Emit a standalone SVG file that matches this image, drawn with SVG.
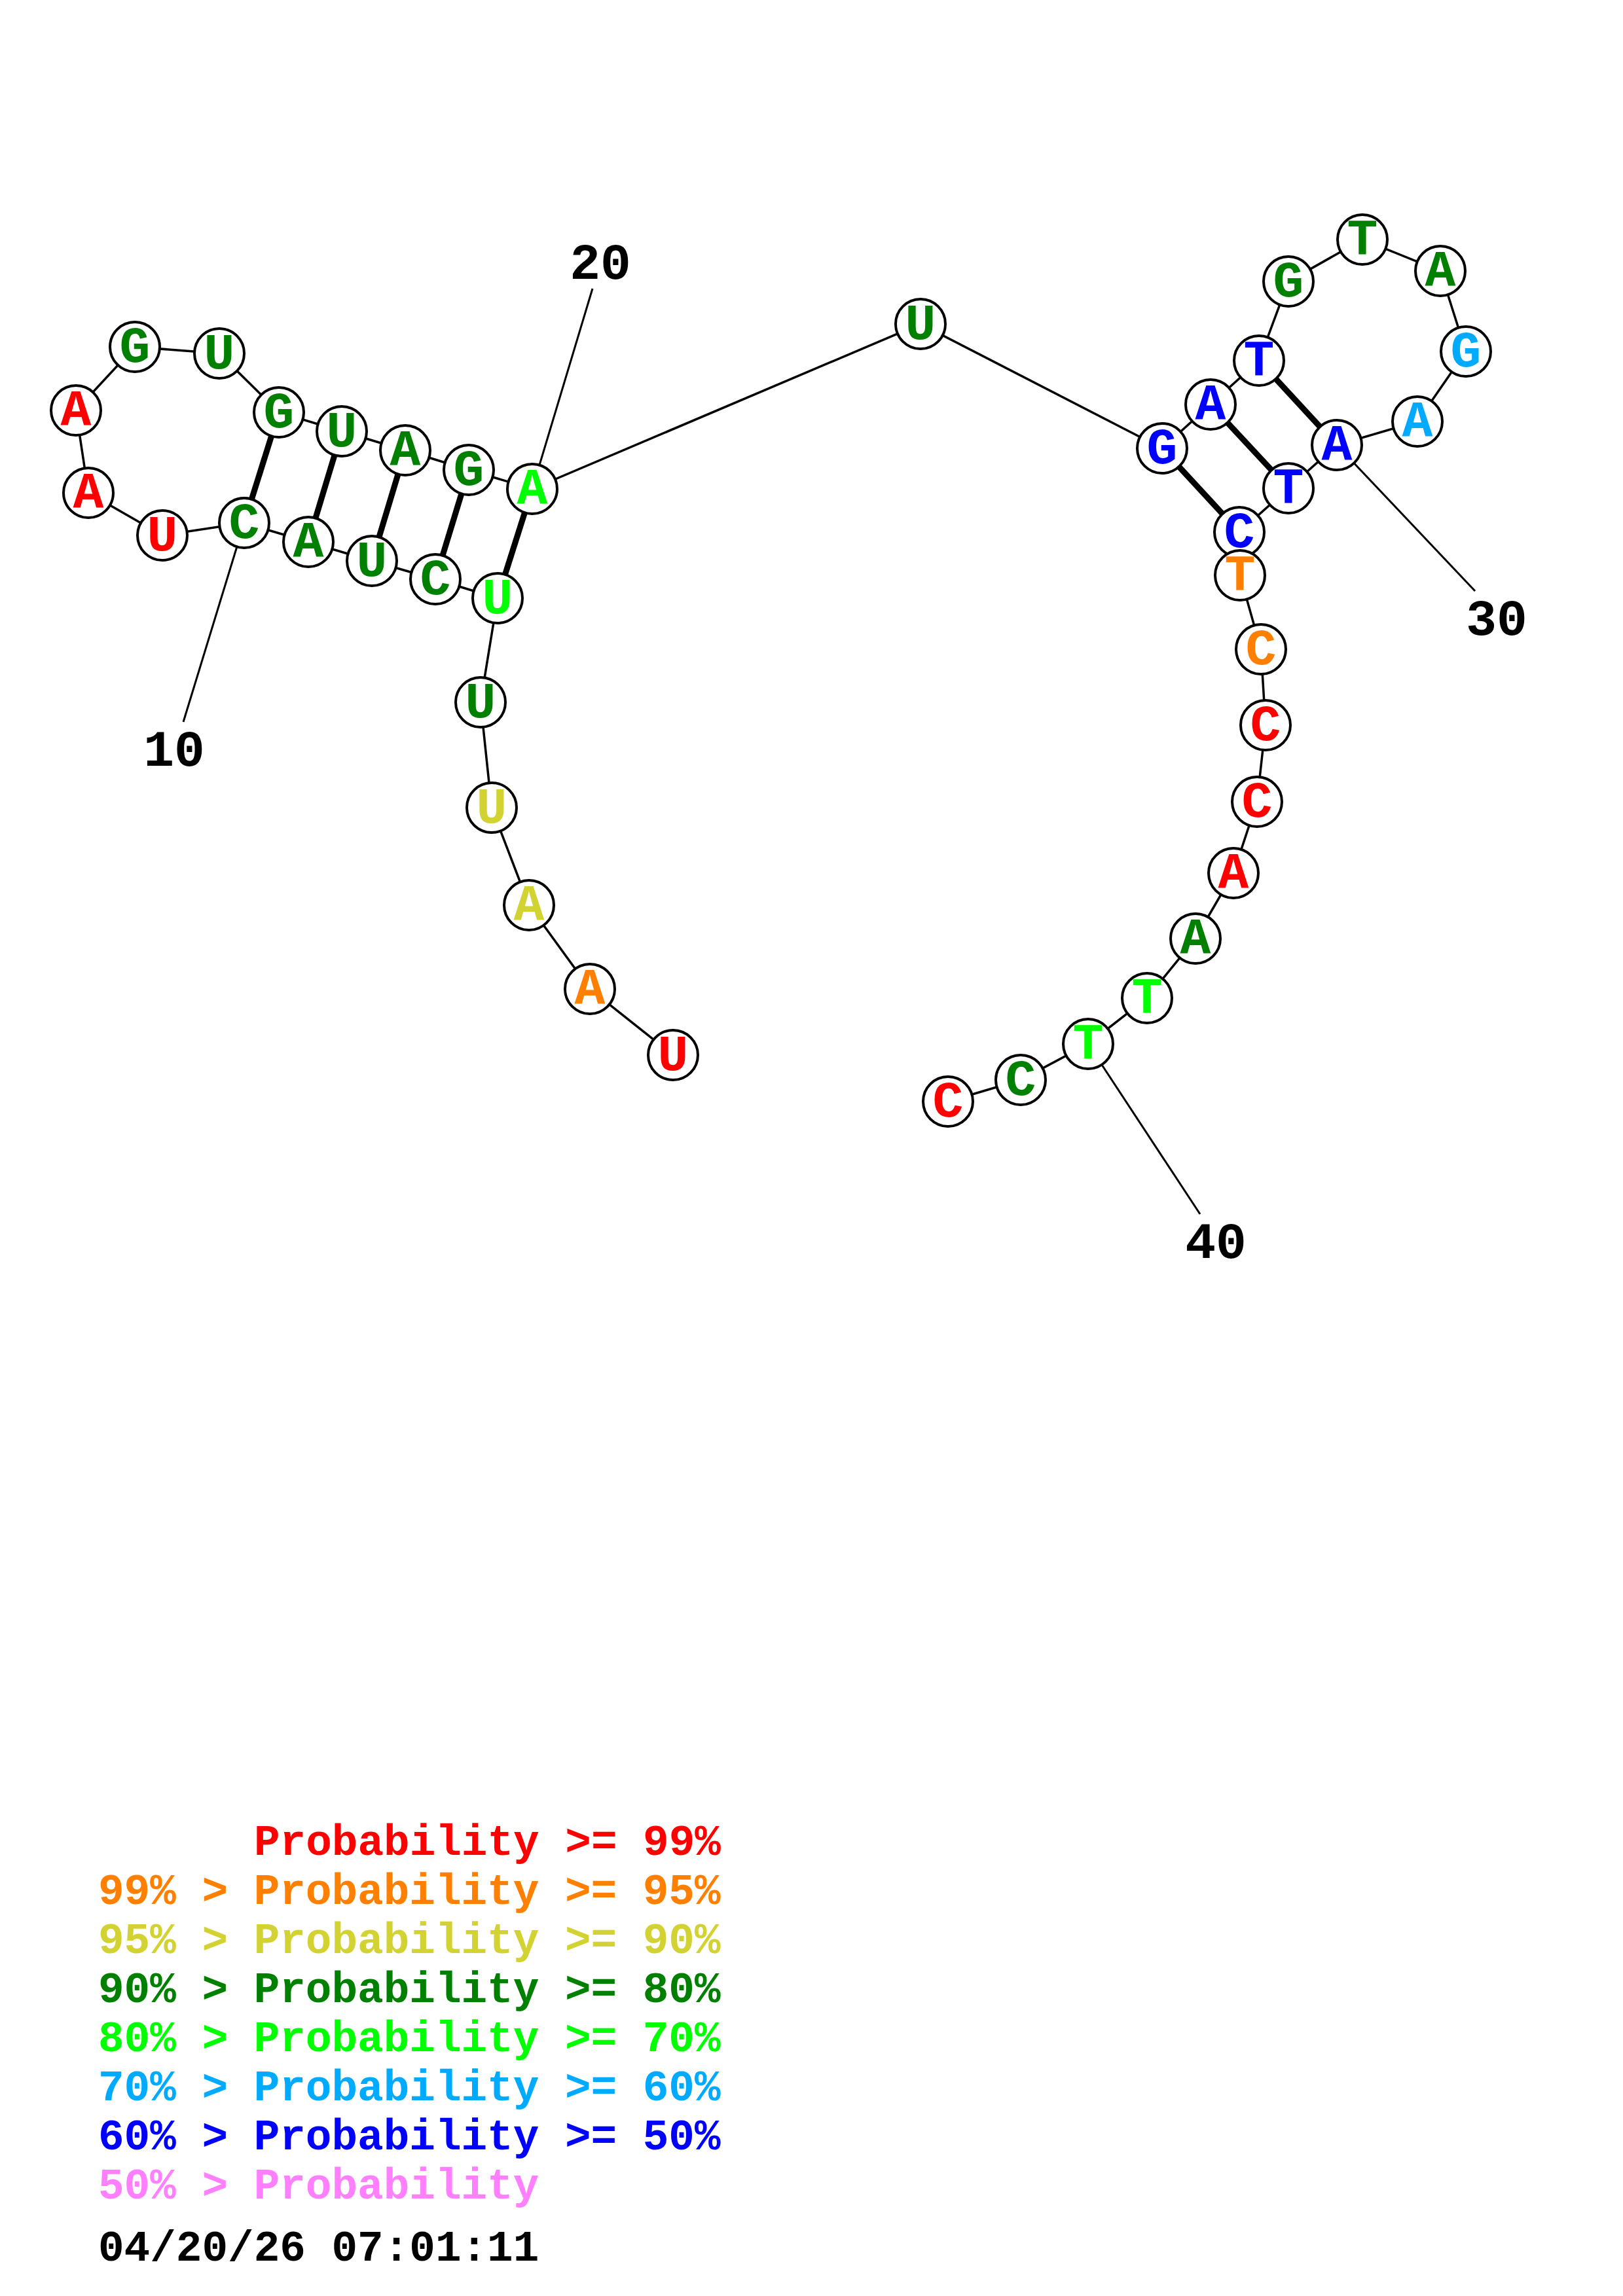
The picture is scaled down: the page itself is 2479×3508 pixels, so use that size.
<svg xmlns="http://www.w3.org/2000/svg" width="2479" height="3508" viewBox="0 0 2479 3508">
<style>
.bb{stroke:#000;stroke-width:3.5;fill:none}
.bp{stroke:#000;stroke-width:9;fill:none}
.ll{stroke:#000;stroke-width:3;fill:none}
.nc{fill:#fff;stroke:#000;stroke-width:4}
.nt{font-family:"Liberation Mono",monospace;font-weight:bold;font-size:78px;text-anchor:middle}
.lab{font-family:"Liberation Mono",monospace;font-weight:bold;font-size:78px;text-anchor:middle;fill:#000}
.lg{font-family:"Liberation Mono",monospace;font-weight:bold;font-size:66px}
.r{fill:#FF0000}.o{fill:#FF8000}.y{fill:#D2D232}.g{fill:#008000}.bg{fill:#00FF00}.lb{fill:#00AAFF}.b{fill:#0000FF}.p{fill:#FF80FF}.k{fill:#000}
</style>
<rect width="2479" height="3508" fill="#fff"/>
<g id="connectors">
<polyline class="bb" points="1028,1612 901,1511 808,1383 751,1234 734,1073 760,914 665,885 568,857 471,828 373,799 248,818 135,753 116,627 206,530 335,540 426,630 522,659 619,688 716,718 813,747 1406,495 1775,685 1849,618 1923,551 1968,430 2081,366 2200,414 2239,537 2165,644 2042,680 1968,746 1893,813 1894,879 1926,992 1933,1108 1920,1225 1884,1334 1826,1434 1752,1525 1662,1595 1559,1650 1448,1683"/>
<line class="bp" x1="426" y1="630" x2="373" y2="799"/>
<line class="bp" x1="522" y1="659" x2="471" y2="828"/>
<line class="bp" x1="619" y1="688" x2="568" y2="857"/>
<line class="bp" x1="716" y1="718" x2="665" y2="885"/>
<line class="bp" x1="813" y1="747" x2="760" y2="914"/>
<line class="bp" x1="1775" y1="685" x2="1893" y2="813"/>
<line class="bp" x1="1849" y1="618" x2="1968" y2="746"/>
<line class="bp" x1="1923" y1="551" x2="2042" y2="680"/>
<line class="ll" x1="373" y1="799" x2="280" y2="1103"/>
<line class="ll" x1="813" y1="747" x2="905" y2="441"/>
<line class="ll" x1="2042" y1="680" x2="2253" y2="903"/>
<line class="ll" x1="1662" y1="1595" x2="1833" y2="1855"/>
</g>
<g id="labels">
<text class="lab" x="266" y="1170">10</text>
<text class="lab" x="917" y="426">20</text>
<text class="lab" x="2286" y="970">30</text>
<text class="lab" x="1857" y="1922">40</text>
</g>
<g id="n1"><circle class="nc" cx="1028" cy="1612" r="38"/><text class="nt r" x="1028" y="1635">U</text></g>
<g id="n2"><circle class="nc" cx="901" cy="1511" r="38"/><text class="nt o" x="901" y="1534">A</text></g>
<g id="n3"><circle class="nc" cx="808" cy="1383" r="38"/><text class="nt y" x="808" y="1406">A</text></g>
<g id="n4"><circle class="nc" cx="751" cy="1234" r="38"/><text class="nt y" x="751" y="1257">U</text></g>
<g id="n5"><circle class="nc" cx="734" cy="1073" r="38"/><text class="nt g" x="734" y="1096">U</text></g>
<g id="n6"><circle class="nc" cx="760" cy="914" r="38"/><text class="nt bg" x="760" y="937">U</text></g>
<g id="n7"><circle class="nc" cx="665" cy="885" r="38"/><text class="nt g" x="665" y="908">C</text></g>
<g id="n8"><circle class="nc" cx="568" cy="857" r="38"/><text class="nt g" x="568" y="880">U</text></g>
<g id="n9"><circle class="nc" cx="471" cy="828" r="38"/><text class="nt g" x="471" y="851">A</text></g>
<g id="n10"><circle class="nc" cx="373" cy="799" r="38"/><text class="nt g" x="373" y="822">C</text></g>
<g id="n11"><circle class="nc" cx="248" cy="818" r="38"/><text class="nt r" x="248" y="841">U</text></g>
<g id="n12"><circle class="nc" cx="135" cy="753" r="38"/><text class="nt r" x="135" y="776">A</text></g>
<g id="n13"><circle class="nc" cx="116" cy="627" r="38"/><text class="nt r" x="116" y="650">A</text></g>
<g id="n14"><circle class="nc" cx="206" cy="530" r="38"/><text class="nt g" x="206" y="553">G</text></g>
<g id="n15"><circle class="nc" cx="335" cy="540" r="38"/><text class="nt g" x="335" y="563">U</text></g>
<g id="n16"><circle class="nc" cx="426" cy="630" r="38"/><text class="nt g" x="426" y="653">G</text></g>
<g id="n17"><circle class="nc" cx="522" cy="659" r="38"/><text class="nt g" x="522" y="682">U</text></g>
<g id="n18"><circle class="nc" cx="619" cy="688" r="38"/><text class="nt g" x="619" y="711">A</text></g>
<g id="n19"><circle class="nc" cx="716" cy="718" r="38"/><text class="nt g" x="716" y="741">G</text></g>
<g id="n20"><circle class="nc" cx="813" cy="747" r="38"/><text class="nt bg" x="813" y="770">A</text></g>
<g id="n21"><circle class="nc" cx="1406" cy="495" r="38"/><text class="nt g" x="1406" y="518">U</text></g>
<g id="n22"><circle class="nc" cx="1775" cy="685" r="38"/><text class="nt b" x="1775" y="708">G</text></g>
<g id="n23"><circle class="nc" cx="1849" cy="618" r="38"/><text class="nt b" x="1849" y="641">A</text></g>
<g id="n24"><circle class="nc" cx="1923" cy="551" r="38"/><text class="nt b" x="1923" y="574">T</text></g>
<g id="n25"><circle class="nc" cx="1968" cy="430" r="38"/><text class="nt g" x="1968" y="453">G</text></g>
<g id="n26"><circle class="nc" cx="2081" cy="366" r="38"/><text class="nt g" x="2081" y="389">T</text></g>
<g id="n27"><circle class="nc" cx="2200" cy="414" r="38"/><text class="nt g" x="2200" y="437">A</text></g>
<g id="n28"><circle class="nc" cx="2239" cy="537" r="38"/><text class="nt lb" x="2239" y="560">G</text></g>
<g id="n29"><circle class="nc" cx="2165" cy="644" r="38"/><text class="nt lb" x="2165" y="667">A</text></g>
<g id="n30"><circle class="nc" cx="2042" cy="680" r="38"/><text class="nt b" x="2042" y="703">A</text></g>
<g id="n31"><circle class="nc" cx="1968" cy="746" r="38"/><text class="nt b" x="1968" y="769">T</text></g>
<g id="n32"><circle class="nc" cx="1893" cy="813" r="38"/><text class="nt b" x="1893" y="836">C</text></g>
<g id="n33"><circle class="nc" cx="1894" cy="879" r="38"/><text class="nt o" x="1894" y="902">T</text></g>
<g id="n34"><circle class="nc" cx="1926" cy="992" r="38"/><text class="nt o" x="1926" y="1015">C</text></g>
<g id="n35"><circle class="nc" cx="1933" cy="1108" r="38"/><text class="nt r" x="1933" y="1131">C</text></g>
<g id="n36"><circle class="nc" cx="1920" cy="1225" r="38"/><text class="nt r" x="1920" y="1248">C</text></g>
<g id="n37"><circle class="nc" cx="1884" cy="1334" r="38"/><text class="nt r" x="1884" y="1357">A</text></g>
<g id="n38"><circle class="nc" cx="1826" cy="1434" r="38"/><text class="nt g" x="1826" y="1457">A</text></g>
<g id="n39"><circle class="nc" cx="1752" cy="1525" r="38"/><text class="nt bg" x="1752" y="1548">T</text></g>
<g id="n40"><circle class="nc" cx="1662" cy="1595" r="38"/><text class="nt bg" x="1662" y="1618">T</text></g>
<g id="n41"><circle class="nc" cx="1559" cy="1650" r="38"/><text class="nt g" x="1559" y="1673">C</text></g>
<g id="n42"><circle class="nc" cx="1448" cy="1683" r="38"/><text class="nt r" x="1448" y="1706">C</text></g>
<g id="legend">
<text class="lg r" x="388" y="2834">Probability &gt;= 99%</text>
<text class="lg o" x="150" y="2909">99% &gt; Probability &gt;= 95%</text>
<text class="lg y" x="150" y="2984">95% &gt; Probability &gt;= 90%</text>
<text class="lg g" x="150" y="3059">90% &gt; Probability &gt;= 80%</text>
<text class="lg bg" x="150" y="3134">80% &gt; Probability &gt;= 70%</text>
<text class="lg lb" x="150" y="3209">70% &gt; Probability &gt;= 60%</text>
<text class="lg b" x="150" y="3284">60% &gt; Probability &gt;= 50%</text>
<text class="lg p" x="150" y="3359">50% &gt; Probability</text>
<text class="lg k" x="150" y="3454">04/20/26 07:01:11</text>
</g>
</svg>
